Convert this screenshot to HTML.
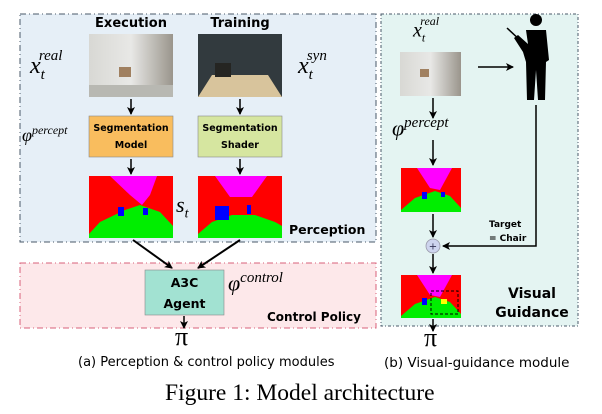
<!DOCTYPE html>
<html><head><style>
body{margin:0;width:602px;height:414px;background:#fff;position:relative;overflow:hidden;font-family:"DejaVu Sans","Liberation Sans",sans-serif}
.a{position:absolute}
.m{font-family:"Liberation Serif",serif;font-style:italic}
.b{font-weight:bold}
</style></head><body>
<svg class="a" style="left:0;top:0" width="602" height="414">
<defs>
<marker id="ar" markerWidth="8" markerHeight="8" refX="7" refY="4" orient="auto" markerUnits="userSpaceOnUse"><path d="M0,0 L8,4 L0,8 L2,4z" fill="#000"/></marker>
<linearGradient id="real" x1="0" x2="1"><stop offset="0" stop-color="#d8d8d4"/><stop offset=".5" stop-color="#e8e8e6"/><stop offset="1" stop-color="#9a958c"/></linearGradient>
</defs>
<rect x="20" y="14" width="356" height="228" fill="#e6eff7" stroke="#4a5a6a" stroke-dasharray="6,3,1,3"/>
<rect x="20" y="263" width="356" height="65" fill="#fde8ea" stroke="#d8607a" stroke-dasharray="6,3,1,3"/>
<rect x="381" y="14" width="197" height="312" fill="#e4f4f2" stroke="#4a5a6a" stroke-dasharray="3,2,1,2"/>
<rect x="89" y="34" width="84" height="63" fill="url(#real)"/>
<polygon points="89,85 173,85 173,97 89,97" fill="#b8b8b2"/>
<rect x="119" y="67" width="12" height="10" fill="#a08060"/>
<rect x="198" y="34" width="84" height="63" fill="#323a3e"/>
<polygon points="198,97 282,97 268,75 212,75" fill="#d8c49c"/>
<rect x="215" y="63" width="16" height="14" fill="#252522"/>
<rect x="400" y="52" width="61" height="44" fill="url(#real)"/>
<rect x="420" y="69" width="9" height="8" fill="#a08060"/>
<rect x="89" y="176" width="84" height="62" fill="#f00"/>
<polygon points="110,176 157,176 150,195 142,205 130,195" fill="#f0f"/>
<polygon points="89,234 100,222 125,210 140,205 160,212 173,226 173,238 89,238" fill="#0e0"/>
<rect x="118" y="207" width="6" height="9" fill="#00f"/><rect x="143" y="208" width="5" height="7" fill="#00f"/>
<rect x="198" y="176" width="84" height="62" fill="#f00"/>
<polygon points="215,176 267,176 252,197 230,197" fill="#f0f"/>
<polygon points="198,234 212,222 232,215 255,215 275,222 282,226 282,238 198,238" fill="#0e0"/>
<rect x="215" y="206" width="14" height="14" fill="#00f"/><rect x="247" y="205" width="4" height="9" fill="#00f"/>
<rect x="401" y="168" width="60" height="44" fill="#f00"/>
<polygon points="417,168 452,168 440,190 430,188" fill="#f0f"/>
<polygon points="401,210 415,198 435,191 450,196 461,208 461,212 401,212" fill="#0e0"/>
<rect x="422" y="192" width="5" height="7" fill="#00f"/><rect x="441" y="192" width="4" height="5" fill="#00f"/>
<rect x="401" y="275" width="60" height="43" fill="#f00"/>
<polygon points="417,275 452,275 440,297 430,295" fill="#f0f"/>
<polygon points="401,316 415,304 435,297 450,302 461,314 461,318 401,318" fill="#0e0"/>
<rect x="422" y="298" width="5" height="7" fill="#00f"/><rect x="441" y="299" width="6" height="5" fill="#ff0"/>
<rect x="431" y="291" width="27" height="23" fill="none" stroke="#000" stroke-dasharray="3,2"/>
<rect x="89" y="116" width="84" height="41" fill="#f9bd5e" stroke="#888" stroke-width=".6"/>
<rect x="198" y="116" width="84" height="41" fill="#d6e6a0" stroke="#888" stroke-width=".6"/>
<rect x="145" y="270" width="79" height="45" fill="#a2e2d2" stroke="#888" stroke-width=".6"/>
<g stroke="#000" stroke-width="1.5" fill="none" marker-end="url(#ar)">
<line x1="131" y1="99" x2="131" y2="114"/><line x1="240" y1="99" x2="240" y2="114"/>
<line x1="131" y1="159" x2="131" y2="174"/><line x1="240" y1="159" x2="240" y2="174"/>
<line x1="133" y1="240" x2="172" y2="268" stroke-width="2"/><line x1="240" y1="240" x2="198" y2="268" stroke-width="2"/>
<line x1="184" y1="316" x2="184" y2="328"/>
<line x1="433" y1="98" x2="433" y2="118"/><line x1="433" y1="140" x2="433" y2="165"/>
<line x1="433" y1="214" x2="433" y2="237"/><line x1="433" y1="254" x2="433" y2="273"/>
<line x1="433" y1="319" x2="433" y2="331"/>
<line x1="478" y1="67" x2="513" y2="67"/>
<polyline points="536,105 536,246 443,246"/>
</g>
<circle cx="433" cy="246" r="7" fill="#cdd4ee" stroke="#99a" stroke-width=".8"/>
<text x="433" y="249.5" font-size="10" text-anchor="middle" fill="#335">+</text>
<g fill="#000">
<circle cx="536" cy="20" r="6"/>
<path d="M526,30 L546,30 L549,60 L546,62 L545,100 L538,100 L536,70 L534,100 L527,100 L526,62 L523,52 L514,38 L518,35 L528,44z"/>
<line x1="507" y1="28" x2="522" y2="42" stroke="#000" stroke-width="1.5"/>
</g>
</svg>
<div class="a b" style="left:79px;top:16px;width:104px;text-align:center;font-size:13px">Execution</div>
<div class="a b" style="left:188px;top:16px;width:104px;text-align:center;font-size:13px">Training</div>
<div class="a b" style="left:85px;top:120px;width:92px;text-align:center;font-size:9.5px;line-height:17px">Segmentation<br>Model</div>
<div class="a b" style="left:194px;top:120px;width:92px;text-align:center;font-size:9.5px;line-height:17px">Segmentation<br>Shader</div>
<div class="a b" style="left:145px;top:272px;width:79px;text-align:center;font-size:12.5px;line-height:21px">A3C<br>Agent</div>
<div class="a b" style="left:289px;top:222px;font-size:12.5px">Perception</div>
<div class="a b" style="left:267px;top:310px;font-size:12px">Control Policy</div>
<div class="a b" style="left:489px;top:218px;font-size:9px;line-height:14px">Target<br>= Chair</div>
<div class="a b" style="left:490px;top:285px;width:84px;text-align:center;font-size:14px;line-height:19px">Visual<br>Guidance</div>
<div class="a m" style="left:30px;top:52px;font-size:24px">x<sub style="font-size:15px;vertical-align:-6px">t</sub><sup style="font-size:15px;position:relative;left:-6px;top:-4px">real</sup></div>
<div class="a m" style="left:298px;top:52px;font-size:24px">x<sub style="font-size:15px;vertical-align:-6px">t</sub><sup style="font-size:15px;position:relative;left:-6px;top:-4px">syn</sup></div>
<div class="a m" style="left:22px;top:123px;font-size:18px">φ<sup style="font-size:12px">percept</sup></div>
<div class="a m" style="left:176px;top:192px;font-size:22px">s<sub style="font-size:14px">t</sub></div>
<div class="a m" style="left:228px;top:270px;font-size:22px">φ<sup style="font-size:15px">control</sup></div>
<div class="a m" style="left:175px;top:322px;font-size:26px;font-style:normal">π</div>
<div class="a m" style="left:413px;top:18px;font-size:20px">x<sub style="font-size:12px;vertical-align:-5px">t</sub><sup style="font-size:12px;position:relative;left:-5px;top:-4px">real</sup></div>
<div class="a m" style="left:392px;top:115px;font-size:22px">φ<sup style="font-size:15px">percept</sup></div>
<div class="a m" style="left:424px;top:323px;font-size:26px;font-style:normal">π</div>
<div class="a" style="left:78px;top:355px;font-size:13px">(a) Perception &amp; control policy modules</div>
<div class="a" style="left:384px;top:355px;font-size:13.5px">(b) Visual-guidance module</div>
<div class="a" style="left:165px;top:380px;font-family:'Liberation Serif',serif;font-size:23.5px">Figure 1: Model architecture</div>
</body></html>
